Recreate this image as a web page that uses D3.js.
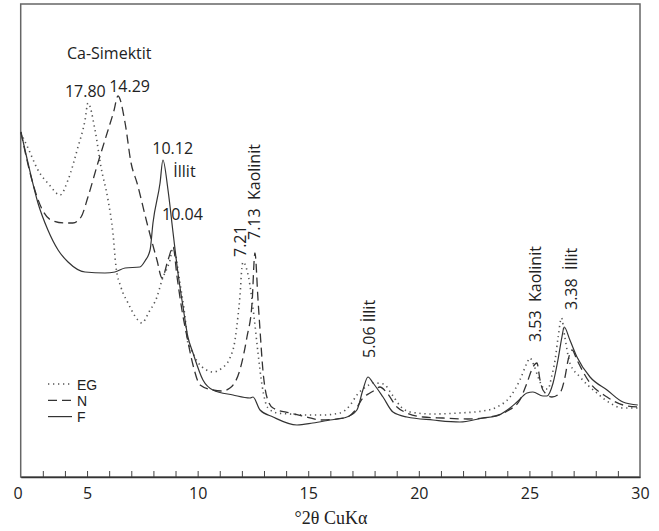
<!DOCTYPE html>
<html>
<head>
<meta charset="utf-8">
<script src="https://cdn.jsdelivr.net/npm/d3@7"></script>
<style>
  body { margin: 0; background: #fff; }
  svg text { font-family: "Open Sans", sans-serif; fill: #222; }
</style>
</head>
<body>
<div id="chart"></div>
<script>
// Diffractogram values: [2θ, counts]
let egData = [
  [2.01, 344], [2.33, 329], [2.78, 307], [3.3, 292], [3.78, 282], [4.14, 297],
  [4.59, 330], [4.91, 357], [5.04, 374], [5.36, 347], [5.63, 310], [5.95, 277],
  [6.17, 244], [6.31, 210], [6.53, 190], [6.85, 174], [7.3, 157], [7.48, 154],
  [7.8, 165], [8.16, 180], [8.39, 197], [8.75, 217], [8.89, 230], [9.2, 194],
  [9.43, 160], [9.56, 134], [9.65, 130], [10.0, 115], [10.4, 107], [10.69, 105],
  [11.1, 109], [11.46, 119], [11.69, 137], [11.82, 160], [11.91, 180], [12.0, 209],
  [12.05, 215], [12.3, 200], [12.55, 160], [12.73, 124], [12.91, 92], [13.18, 69],
  [13.6, 64], [14.17, 63], [15.0, 62], [15.67, 62], [16.43, 64], [16.9, 72],
  [17.2, 82], [17.6, 90], [18.0, 94], [18.4, 93], [18.8, 82], [19.2, 70],
  [19.6, 65], [20.64, 63], [21.8, 64], [22.9, 66], [23.53, 70], [24.12, 80],
  [24.57, 97], [24.89, 114], [25.02, 119], [25.2, 112], [25.39, 100], [25.7, 88],
  [25.84, 88], [26.0, 100], [26.16, 117], [26.3, 140], [26.45, 159], [26.6, 140],
  [26.83, 114], [27.29, 100], [28.05, 84], [28.64, 74], [29.23, 69], [29.9, 69]
];

let nData = [
  [2.01, 345], [2.47, 300], [2.92, 270], [3.37, 257], [4.0, 254], [4.36, 254],
  [4.73, 260], [5.04, 280], [5.49, 314], [5.95, 347], [6.2, 365], [6.4, 381],
  [6.72, 354], [6.99, 314], [7.26, 294], [7.71, 254], [8.16, 217], [8.39, 199],
  [8.66, 217], [8.89, 230], [9.07, 200], [9.29, 167], [9.52, 140], [9.79, 112],
  [10.11, 92], [10.69, 87], [11.1, 86], [11.46, 89], [11.91, 107], [12.23, 140],
  [12.46, 174], [12.59, 224], [12.73, 177], [12.82, 147], [12.95, 107], [13.13, 80],
  [13.41, 69], [14.17, 64], [14.94, 60], [15.53, 57], [16.66, 59], [17.1, 66],
  [17.47, 79], [17.79, 84], [18.02, 87], [18.24, 90], [18.56, 84], [19.01, 70],
  [19.46, 64], [20.19, 60], [21.09, 59], [22.2, 58], [23.22, 60], [24.0, 66],
  [24.57, 77], [24.89, 94], [25.16, 110], [25.34, 114], [25.48, 97], [25.61, 87],
  [26.02, 80], [26.38, 84], [26.61, 100], [26.75, 117], [26.93, 127], [27.15, 117],
  [27.74, 94], [28.51, 80], [29.23, 72], [29.9, 70]
];

let fData = [
  [2.01, 345], [2.33, 314], [2.78, 274], [3.23, 247], [3.69, 227], [4.14, 215],
  [4.91, 205], [5.81, 204], [6.26, 205], [6.72, 209], [7.39, 210], [7.62, 216],
  [7.85, 227], [7.98, 254], [8.3, 294], [8.43, 317], [8.66, 287], [8.89, 244],
  [9.11, 204], [9.34, 170], [9.56, 140], [9.79, 124], [10.24, 97], [10.69, 87],
  [11.6, 82], [12.37, 79], [12.5, 80], [12.82, 67], [13.41, 60], [14.49, 52],
  [15.21, 54], [15.98, 57], [16.75, 60], [17.2, 67], [17.47, 87], [17.7, 100],
  [17.93, 94], [18.38, 80], [18.83, 65], [19.46, 60], [20.64, 57], [21.86, 55],
  [22.9, 59], [23.53, 61], [24.0, 67], [24.44, 75], [24.89, 84], [25.16, 85],
  [25.61, 81], [25.79, 81], [26.07, 94], [26.29, 117], [26.47, 140], [26.57, 150],
  [26.83, 137], [27.15, 120], [27.74, 100], [28.51, 87], [29.23, 75], [29.9, 72]
];

let seriesNames = ['EG', 'N', 'F'];
let seriesData = [egData, nData, fData];

// x axis: every integer tick, labels only at these
let tickValues = [2, 5, 10, 15, 20, 25, 30];
let tickLabels = ['0', '5', '10', '15', '20', '25', '30'];

// Peak labels: text, anchor 2θ, anchor counts, rotated?
let peakLabels = [
  ['Ca-Simektit', 4.09, 418, false],
  ['17.80', 4.0, 380, false],
  ['14.29', 6.0, 385, false],
  ['10.12', 7.95, 323, false],
  ['İllit', 8.9, 300, false],
  ['10.04', 8.39, 257, false],
  ['7.21', 12.19, 220, true],
  ['7.13\u00a0\u00a0Kaolinit', 12.8, 237, true],
  ['5.06 İllit', 18.02, 119, true],
  ['3.53\u00a0\u00a0Kaolinit', 25.52, 135, true],
  ['3.38\u00a0\u00a0İllit', 27.15, 167, true]
];

let w = 659,
  h = 531,
  padLeft = 20.7,
  padRight = 640,
  padTop = 4,
  padBottom = 477;

let svg = d3.select('#chart').
  append('svg').
  attr('width', w).
  attr('height', h);

let x = d3.scaleLinear().domain([2, 30]).range([padLeft, padRight]),
  y = d3.scaleLinear().domain([0, 473]).range([padBottom, padTop]);

// Frame around the plot
svg.append('rect').
  attr('x', padLeft).
  attr('y', padTop).
  attr('width', padRight - padLeft).
  attr('height', padBottom - padTop).
  attr('fill', 'none').
  attr('stroke', '#666').
  attr('stroke-width', 1.5);

// Minor ticks at each degree, pointing inward
svg.append('g').
  attr('transform', 'translate(0,' + padBottom + ')').
  call(d3.axisBottom(x).tickValues(d3.range(3, 30)).tickSize(-6).tickFormat('')).
  call(g => g.select('.domain').remove()).
  call(g => g.selectAll('line').attr('stroke', '#444'));

// Labelled axis
svg.append('g').
  attr('transform', 'translate(0,' + padBottom + ')').
  call(d3.axisBottom(x).tickValues(tickValues).tickSize(0).tickPadding(11).
    tickFormat((d, i) => tickLabels[i])).
  call(g => g.select('.domain').attr('stroke', '#333').attr('stroke-width', 1.6)).
  call(g => g.selectAll('text').
    attr('font-family', '"Open Sans", sans-serif').
    attr('font-size', 16).
    attr('fill', '#222')).
  call(g => g.select('.tick text').attr('dx', -3));

svg.append('text').
  attr('x', 331).
  attr('y', 524).
  attr('text-anchor', 'middle').
  style('font-family', '"Liberation Serif", "Times New Roman", serif').
  style('font-size', '18px').
  text('°2θ CuKα');

let dashes = ['1.3,3.7', '9,5', null],
  strokes = ['#555', '#333', '#333'],
  widths = [1.6, 1.3, 1.2];

let line = d3.line().
  x(d => x(d[0])).
  y(d => y(d[1])).
  curve(d3.curveMonotoneX);

svg.selectAll('.trace').
  data(seriesData).
  enter().
  append('path').
  attr('class', 'trace').
  attr('d', line).
  attr('fill', 'none').
  attr('stroke', (d, i) => strokes[i]).
  attr('stroke-width', (d, i) => widths[i]).
  attr('stroke-dasharray', (d, i) => dashes[i]);

// Legend in the lower left corner
let legend = svg.selectAll('.legend').
  data(seriesNames).
  enter().
  append('g').
  attr('class', 'legend').
  attr('transform', (d, i) => 'translate(48,' + (384 + i * 16.3) + ')');

legend.append('line').
  attr('x1', 0).
  attr('x2', 24).
  attr('stroke', (d, i) => strokes[i]).
  attr('stroke-width', (d, i) => widths[i]).
  attr('stroke-dasharray', (d, i) => dashes[i]);

legend.append('text').
  attr('x', 29).
  attr('y', 5.5).
  style('font-family', '"Liberation Sans", Arial, sans-serif').
  style('font-size', '14px').
  text(d => d);

// Peak annotations
svg.selectAll('.peak').
  data(peakLabels).
  enter().
  append('text').
  attr('class', 'peak').
  attr('transform', d => 'translate(' + x(d[1]) + ',' + y(d[2]) + ')' +
    (d[3] ? ' rotate(-90)' : '')).
  style('font-size', '16px').
  text(d => d[0]);
</script>
</body>
</html>
